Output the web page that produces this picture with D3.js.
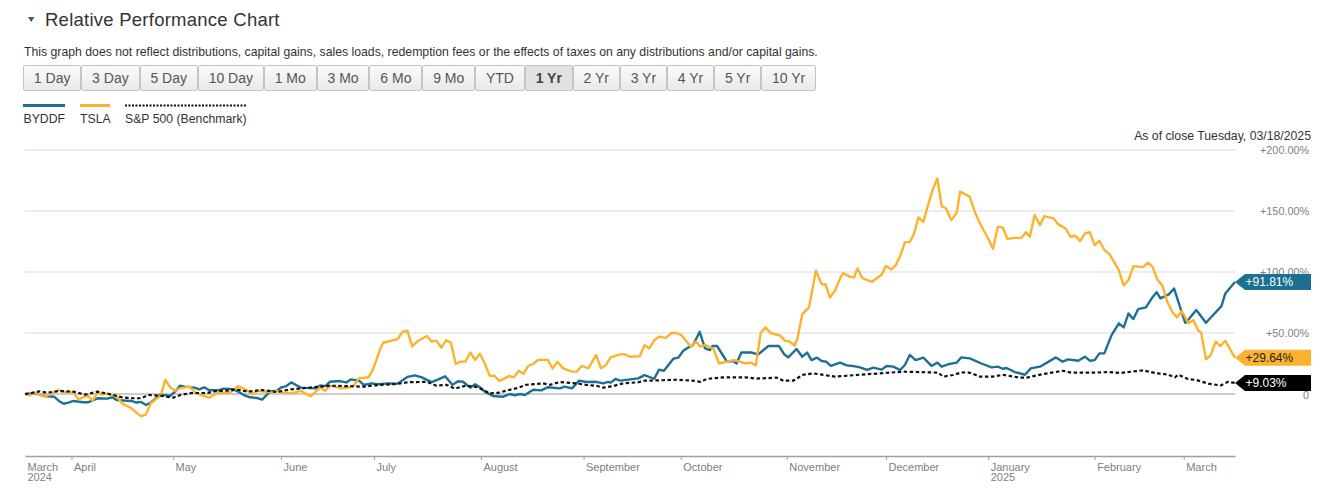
<!DOCTYPE html>
<html>
<head>
<meta charset="utf-8">
<script src="https://cdn.jsdelivr.net/npm/d3@7"></script>
<style>
  html, body { margin: 0; background: #fff; overflow: hidden; }
  body { width: 1321px; height: 500px; position: relative; font-family: "Liberation Sans", Arial, sans-serif; }
  svg { position: absolute; left: 0; top: 0; }
  #ranges { position: absolute; left: 23px; top: 65px; display: flex; gap: 0; }
  #ranges div {
    height: 24px; line-height: 24px; padding: 0 9.85px; font-size: 14px; color: #555;
    border: 1px solid #c4c4c4; border-radius: 2px;
    background: linear-gradient(#fbfbfb, #e9e9e9);
  }
  #ranges div.on { font-weight: bold; color: #444; background: #e2e2e2; }
</style>
</head>
<body>
<div id="ranges"></div>
<script>
// [trading session since 03/18/2024, % change]
const byddfPoints = [[0,0],[2,.5],[4,-1.6],[6,-2.2],[7,-5.7],[8,-8],[9,-7],[10,-5.7],[12,-6.8],[13,-6.8],[15,-3.5],[17,-3.8],[18,-2.7],[19,-5],[21,-5.5],[22,-5.7],[23,-7],[24,-6.5],[25,-9],[26,-7],[27,-3.8],[28,-.3],[30,-1.6],[31,1.9],[32,6.8],[33,6],[35,5.2],[36,3.8],[37,5.5],[38,3.3],[40,3],[41,4.4],[43,4],[44,2],[45.5,-1.4],[46.5,-2.7],[48,-3.3],[49,-4.6],[50.6,2],[52,2.7],[53,5.5],[54,6.5],[55,9.5],[56,7.4],[57,5.2],[60,4.6],[61,7],[62,6.5],[63,10],[65,10.6],[66.4,9.5],[67.3,12],[69,11],[70,7.4],[71.6,8.7],[73,8],[75,8.7],[77,8.5],[79,14],[80.6,15.3],[82,13.6],[84,9.8],[85.4,12],[86.8,14.5],[88.3,7.6],[89.5,10.4],[90.5,10],[92,5.2],[93,7.9],[94,5.5],[95,1.9],[96.7,-1.6],[98.8,-2.2],[100.2,0],[101.2,-1],[102.3,0],[103.3,-.8],[105,3.5],[106.7,3],[108,5.5],[110.5,4.6],[111.5,6],[113,4.6],[114.5,11],[116,9.8],[118,10],[119.5,8.7],[120.5,10],[121,9.3],[122,12.3],[123,11],[126.7,12.8],[128,15.5],[130,12.5],[131,20],[132,19],[134,29],[135,29.8],[136,35.5],[137,38],[138,40],[139.4,51],[140.5,37.4],[141.5,36],[142,39.3],[143,39.3],[144,33],[145,26.5],[146.4,27],[147,25],[148,34],[150,34],[151.5,32.5],[153.6,39.3],[155.8,39.3],[156.8,32.8],[157.7,30],[159.4,36.9],[160.6,30.6],[161.6,33.9],[162.5,27.8],[163.6,29.8],[164.6,27],[165.5,26.5],[166.5,23],[168.4,25.7],[169.8,23.5],[171,23],[172.5,21.8],[174,19.7],[175.3,21.6],[177,20],[178,23],[179.4,22.4],[180.8,19.7],[181.8,23.8],[182.8,32],[184,27.8],[185.6,29.8],[187.3,23],[188.5,25.7],[189.4,22.4],[191,24.6],[192.5,25.7],[193.4,30],[195.2,29.2],[197.6,25],[199.7,21.8],[201,22.4],[202,20.7],[202.8,21.3],[204.5,18],[206.6,15.8],[207.8,21],[209.7,22.4],[213,30],[214.4,26.5],[215.5,28.4],[217.6,27.3],[219,30.6],[220,27.3],[221,27.8],[222,33.3],[223,33.3],[224.5,48.3],[226,57.9],[227,54.6],[228,66],[229,61.4],[230,69.6],[231.6,71],[232.8,78.4],[233.8,83.5],[234.6,78.4],[236.4,81.9],[237.4,86.5],[239.7,58.4],[240.3,60.6],[242,68.8],[244,58.4],[247.2,72],[248,82.4],[250,91.81]];

const tslaPoints = [[0,0],[1,-1.1],[2,1.1],[3,-.5],[4,-2.2],[5,-.5],[7,3.3],[8,1.6],[10,1.4],[11,-4.4],[12,-2.7],[13,-1.6],[14,-5.5],[15,1.6],[16,-.5],[17,.5],[19,-2.2],[20,-7.6],[21,-9.8],[22,-11.7],[23,-15.3],[24,-18.3],[25,-16.7],[26,-7.6],[27,-4.4],[28,-1.6],[29,11.5],[30,5.5],[31,2.7],[32,4.6],[34,6],[35,1.9],[36,-.3],[38,-3],[39,-.8],[40,1.1],[42,.8],[43,2.7],[44,6.5],[46,2.7],[47,0],[48,2.7],[49,2.2],[51,1.1],[52,2.5],[53,1.1],[55,.5],[57,2.5],[59,-1.9],[60,1.6],[61,5.5],[62,2.5],[63,6.8],[65.4,4.6],[67,5.5],[68,7.4],[69,12.8],[71,13.7],[72,21],[73.3,36],[74,42],[77,45],[78,51],[79,52],[80,39],[81,43],[83,47.5],[84,43],[85,43.7],[86,38],[87,44],[88,42],[89,24.6],[90,26.5],[91,26.5],[92,34],[93,28],[94,33],[95,25],[96,15],[97,15],[98,10.6],[100,14.7],[101,13.6],[102,19],[103,16.4],[104,23],[105,24.6],[106,28],[108,28],[109,21],[110,26.5],[111.2,21],[113,18.3],[114,18.3],[115,23],[116.4,21],[118,32],[119,21],[120,23.7],[121,30],[123,32.5],[124,32.5],[125,30.5],[127,31],[128,40],[129,37.4],[130,44],[131,47],[132.4,46],[133.6,50],[134.6,50],[135.7,48],[136.7,43],[137.6,38.8],[138.6,43],[139.5,38.8],[140.5,40],[142.2,37.4],[143.4,25],[145,26.5],[146.4,27.8],[147.7,26.5],[149,25],[150,25.7],[151,23.5],[152,50],[153,54.6],[154,50],[155,49],[156,48],[157,43.7],[158,43],[159,39.6],[159.6,45.6],[160.6,65.5],[162,71],[163.4,101],[164.6,90],[165.4,90],[166.3,79],[167.4,85],[168.5,95.5],[169,99],[170.5,96],[171.3,95.5],[172,103],[173,95],[175,92],[177,98],[177.9,105],[179,102],[179.9,105.6],[180.9,114],[181.8,124.5],[182.8,124.5],[183.7,131.6],[184.6,144.7],[185.6,141],[186.6,155],[187.5,167],[188.5,176.6],[189.4,154],[190.3,152],[191.4,142.5],[192.5,148.5],[193.2,166],[195.2,161.6],[196.3,148.5],[197.3,140],[199,127.5],[200,119],[201,137],[202,136.5],[203,127],[204.2,128],[205.9,128],[206.8,132.7],[207.6,129],[208.6,146.6],[209.7,138.4],[210.6,145.8],[212.5,144],[213.5,139],[215,135.7],[216,128.9],[217,129.7],[218,125.3],[219,131.6],[220,132.7],[221,122],[222,125.6],[223,118],[224,115],[226,101.6],[227,89],[228,93.4],[229,104.8],[231,104],[232,107.6],[233,104],[234,93.4],[235,89],[236,75.6],[237,67.4],[238,62.8],[239,68],[240.4,58],[241.4,60.6],[242.4,52],[243,50.5],[244,28.4],[245,32],[246,42.9],[247,39.3],[248,43.7],[250,29.64]];

const sp500Points = [[0,0],[1,.5],[3,2.2],[4.5,1],[7,2.5],[10,1.9],[12.4,-.5],[15,1.9],[17.6,-.3],[20,-2.7],[22.4,-3.5],[24,-3.5],[25.5,-.8],[28,-1.4],[30.6,-3],[32.4,-.5],[34.4,.8],[37.5,.8],[39.6,2.5],[41.7,2.7],[43.7,3.8],[46,1.9],[49,3.3],[52,1.6],[54.8,3.8],[58,4.9],[63,6.8],[65.8,6.5],[70,6],[73,7.4],[76.8,8.2],[79,9.6],[83,10],[85,6.8],[87,7.6],[88.8,4.4],[91,6.8],[93.6,5.5],[96,.5],[97.8,1],[100,3.3],[102,5.2],[103.6,7.6],[107,8.7],[108.5,7.6],[110.5,9.8],[114,8.7],[116,7.4],[118,6.8],[119.5,5.2],[121.5,6.5],[123.6,8.7],[126.7,9.6],[128,10.9],[131,11.2],[134.6,11.7],[138,10.9],[139.6,10],[140.8,12.3],[144.3,13.7],[149,13.7],[151,12.6],[155.3,13.4],[156.7,10.9],[158.7,10.9],[160.8,15.8],[162.9,16.9],[167.4,14.2],[172.5,15.8],[176.6,16.9],[181.5,18.3],[184.6,18],[188.7,17.5],[189.7,14.2],[191.8,15.6],[193.5,17.7],[195.2,17.5],[197.3,14.2],[200,14.2],[202,15.8],[205.6,13.4],[207,13.4],[210.4,16.4],[214.5,19],[216.2,17.5],[220.7,17.5],[224,18],[226.2,17.2],[231,19.4],[233.8,17],[236,16],[237.6,13.7],[238.3,15.8],[240.3,12.3],[242,11.5],[244.5,8.5],[247,7],[248.6,10],[250,9.03]];

const seriesNames = ["BYDDF", "TSLA", "S&P 500 (Benchmark)"];
const seriesColors = ["#1b7093", "#fdb22e", "#111111"];
const endValues = [91.81, 29.64, 9.03];
const endLabels = ["+91.81%", "+29.64%", "+9.03%"];

const rangeLabels = ["1 Day", "3 Day", "5 Day", "10 Day", "1 Mo", "3 Mo", "6 Mo", "9 Mo", "YTD", "1 Yr", "2 Yr", "3 Yr", "4 Yr", "5 Yr", "10 Yr"];
const yTicks = [0, 50, 100, 150, 200];
const monthTicks = [0, 9.6, 30.6, 52.9, 72.1, 94.2, 115.4, 135.5, 157.4, 177.9, 199, 221, 239.4];
const monthLabels = ["March|2024", "April", "May", "June", "July", "August", "September", "October", "November", "December", "January|2025", "February", "March"];

d3.select("#ranges").selectAll("div")
  .data(rangeLabels)
  .join("div")
  .classed("on", d => d == "1 Yr")
  .text(d => d);

const svg = d3.select("body").insert("svg", "#ranges")
  .attr("width", 1321)
  .attr("height", 500)
  .style("font-family", '"Liberation Sans", Arial, sans-serif');

const x = d3.scaleLinear().domain([0, 250]).range([25, 1235]);
const y = d3.scaleLinear().domain([0, 200]).range([394, 150]);

// Header
svg.append("path").attr("d", "M28,17L34.5,17L31.2,22Z").attr("fill", "#555");
svg.append("text").attr("x", 45).attr("y", 26)
  .attr("font-size", 18.5).attr("fill", "#333").attr("letter-spacing", 0.25)
  .text("Relative Performance Chart");
svg.append("text").attr("x", 24).attr("y", 56)
  .attr("font-size", 12.26).attr("fill", "#333")
  .text("This graph does not reflect distributions, capital gains, sales loads, redemption fees or the effects of taxes on any distributions and/or capital gains.");

// Legend
const legendX = [23, 80, 125];
const legendEnd = [65, 110, 246];
seriesNames.forEach((name, i) => {
  svg.append("line")
    .attr("x1", legendX[i]).attr("x2", legendEnd[i])
    .attr("y1", 105.5).attr("y2", 105.5)
    .attr("stroke", seriesColors[i])
    .attr("stroke-width", i == 2 ? 2 : 3)
    .attr("stroke-dasharray", i == 2 ? "2,1.5" : null);
  svg.append("text").attr("x", legendX[i] + (i == 0 ? 0.5 : 0)).attr("y", 123)
    .attr("font-size", 12.26).attr("fill", "#333").text(name);
});

svg.append("text").attr("x", 1311).attr("y", 140)
  .attr("text-anchor", "end").attr("font-size", 12.26).attr("fill", "#333")
  .text("As of close Tuesday, 03/18/2025");

// Y axis with gridlines
const yAxis = d3.axisRight(y)
  .tickValues(yTicks)
  .tickSize(0)
  .tickFormat(d => d == 0 ? "0" : "+" + d3.format(".2f")(d) + "%");

const yG = svg.append("g")
  .attr("transform", "translate(1309,0)")
  .call(yAxis);
yG.select(".domain").remove();
yG.selectAll("text")
  .attr("x", 0).attr("dy", d => d == 0 ? "0.42em" : "0.34em")
  .attr("text-anchor", "end")
  .attr("font-size", 10.8)
  .attr("font-family", '"Liberation Sans", Arial, sans-serif')
  .attr("fill", "#808080");

svg.append("g").selectAll("line")
  .data(yTicks)
  .join("line")
  .attr("x1", x(0)).attr("x2", x(250))
  .attr("y1", d => y(d)).attr("y2", d => y(d))
  .attr("stroke", d => d == 0 ? "#bdbdbd" : "#e6e6e6")
  .attr("stroke-width", 1.5);

// X axis
const xAxis = d3.axisBottom(x)
  .tickValues(monthTicks)
  .tickSize(4)
  .tickSizeOuter(0)
  .tickFormat("");

const xG = svg.append("g")
  .attr("transform", "translate(0,456)")
  .call(xAxis);
xG.select(".domain").attr("stroke", "#a0a0a0").attr("stroke-width", 1.5);
xG.selectAll(".tick line").attr("stroke", d => d == 0 ? "none" : "#a0a0a0");
xG.selectAll(".tick text").remove();

monthLabels.forEach((label, i) => {
  const t = svg.append("text")
    .attr("x", x(monthTicks[i]) + 2.5).attr("y", 471)
    .attr("font-size", 11).attr("fill", "#808080");
  label.split("|").forEach((part, j) => {
    t.append("tspan").attr("x", x(monthTicks[i]) + 2.5).attr("dy", j ? 10 : 0).text(part);
  });
});

// Lines
const line = d3.line().x(d => x(d[0])).y(d => y(d[1]));

[byddfPoints, tslaPoints, sp500Points].forEach((points, i) => {
  svg.append("path")
    .datum(points)
    .attr("fill", "none")
    .attr("stroke", seriesColors[i])
    .attr("stroke-width", i == 2 ? 2.2 : 2.4)
    .attr("stroke-linejoin", "round")
    .attr("stroke-dasharray", i == 2 ? "3.5,2.5" : null)
    .attr("d", line);
});

// End flags
endValues.forEach((v, i) => {
  const cy = y(v);
  svg.append("path")
    .attr("fill", seriesColors[i] == "#111111" ? "#000" : seriesColors[i])
    .attr("d", d3.line()([[1235, cy], [1245, cy - 8], [1311, cy - 8], [1311, cy + 8], [1245, cy + 8]]) + "Z");
  svg.append("text")
    .attr("x", 1245.5).attr("y", cy + 4.3)
    .attr("font-size", 12)
    .attr("fill", i == 1 ? "#222" : "#fff")
    .text(endLabels[i]);
});
</script>
</body>
</html>
